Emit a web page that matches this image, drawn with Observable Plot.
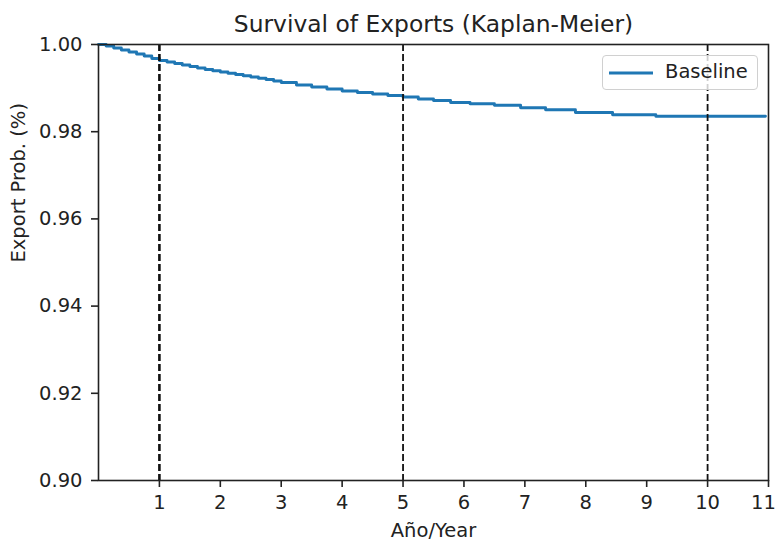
<!DOCTYPE html>
<html>
<head>
<meta charset="utf-8">
<script src="https://cdn.jsdelivr.net/npm/d3@7"></script>
<script src="https://cdn.jsdelivr.net/npm/@observablehq/plot@0.6"></script>
<style>
  html, body { margin: 0; padding: 0; background: #fff; }
  #wrap { position: relative; width: 776px; height: 541px; }
  #legend {
    position: absolute; left: 602px; top: 55px; width: 156px; height: 35px;
    border: 1px solid #d0d0d0; border-radius: 4px; background: rgba(255,255,255,0.8);
    font-family: "DejaVu Sans", sans-serif; font-size: 19.5px; color: #222;
    box-sizing: border-box;
  }
  #legend svg { position: absolute; left: 5px; top: 14px; }
  #legend span { position: absolute; left: 62px; top: 4px; }
</style>
</head>
<body>
<div id="wrap"></div>
<script>
const title = "Survival of Exports (Kaplan-Meier)";
const xLabel = "Año/Year";
const yLabel = "Export Prob. (%)";
const seriesName = "Baseline";
const xTicks = [1, 2, 3, 4, 5, 6, 7, 8, 9, 10, 11];
const xEdgeTick = 11;
const yTicks = [0.90, 0.92, 0.94, 0.96, 0.98, 1.00];
const markerYears = [1, 5, 10];

// Kaplan-Meier step estimates
const times = [0, 0.125, 0.25, 0.375, 0.5, 0.625, 0.75, 0.875, 1, 1.125, 1.25, 1.375, 1.5, 1.625, 1.75, 1.875, 2, 2.125, 2.25, 2.375, 2.5, 2.625, 2.75, 2.875, 3, 3.25, 3.5, 3.75, 4, 4.25, 4.5, 4.75, 5, 5.25, 5.5, 5.78, 6.1, 6.5, 6.93, 7.34, 7.83, 8.44, 9.15, 10.95];
const survival = [1.0000, 0.99966, 0.99920, 0.99874, 0.99828, 0.99782, 0.99736, 0.99679, 0.99633, 0.99599, 0.99564, 0.99530, 0.99495, 0.99461, 0.99427, 0.99397, 0.99369, 0.99339, 0.99312, 0.99282, 0.99255, 0.99225, 0.99197, 0.99163, 0.99128, 0.99071, 0.99025, 0.98979, 0.98933, 0.98899, 0.98865, 0.98830, 0.98796, 0.98750, 0.98716, 0.98670, 0.98640, 0.98608, 0.98548, 0.98502, 0.98440, 0.98388, 0.98356, 0.98356];

const data = times.map((t, i) => ({t, s: survival[i]}));

const chart = Plot.plot({
  width: 776,
  height: 541,
  marginLeft: 98,
  marginRight: 8,
  marginTop: 44,
  marginBottom: 61,
  style: {fontFamily: "DejaVu Sans, sans-serif", fontSize: "19.5px", color: "#222", background: "#fff"},
  x: {domain: [0, 11]},
  y: {domain: [0.90, 1.00]},
  marks: [
    Plot.line(data, {x: "t", y: "s", curve: "step-after", stroke: "#1f77b4", strokeWidth: 2.9}),
    Plot.ruleX(markerYears.slice(0, 1), {stroke: "#111", strokeWidth: 2.6, strokeDasharray: "7,3"}),
    Plot.ruleX(markerYears.slice(1), {stroke: "#111", strokeWidth: 1.8, strokeDasharray: "7,3"}),
    Plot.frame({stroke: "#222", strokeWidth: 1.6}),
    Plot.axisX({ticks: xTicks, tickSize: 7, tickPadding: 8, tickFormat: d => d === xEdgeTick ? "" : String(d), label: null, fontSize: 19.5, stroke: "#222", strokeWidth: 1.6}),
    Plot.axisX({ticks: [xEdgeTick], tickSize: 0, tickPadding: 15, label: null, fontSize: 19.5, dx: -5}),
    Plot.axisY({ticks: yTicks, tickSize: 7, tickPadding: 9, tickFormat: ".2f", label: null, fontSize: 19.5, stroke: "#222", strokeWidth: 1.6}),
    Plot.text([title], {frameAnchor: "top", lineAnchor: "middle", dy: -20, text: d => d, fontSize: 23.4, fill: "#222"}),
    Plot.text([xLabel], {frameAnchor: "bottom", lineAnchor: "middle", dy: 50, text: d => d, fontSize: 19.5, fill: "#222"}),
    Plot.text([yLabel], {frameAnchor: "left", dx: -80, rotate: -90, text: d => d, fontSize: 19.5, fill: "#222"})
  ]
});

const wrap = document.getElementById("wrap");
wrap.appendChild(chart);
const legend = document.createElement("div");
legend.id = "legend";
legend.innerHTML = `<svg width="46" height="6"><line x1="1" y1="3" x2="45" y2="3" stroke="#1f77b4" stroke-width="2.9"/></svg><span></span>`;
legend.querySelector("span").textContent = seriesName;
wrap.appendChild(legend);
</script>
</body>
</html>
